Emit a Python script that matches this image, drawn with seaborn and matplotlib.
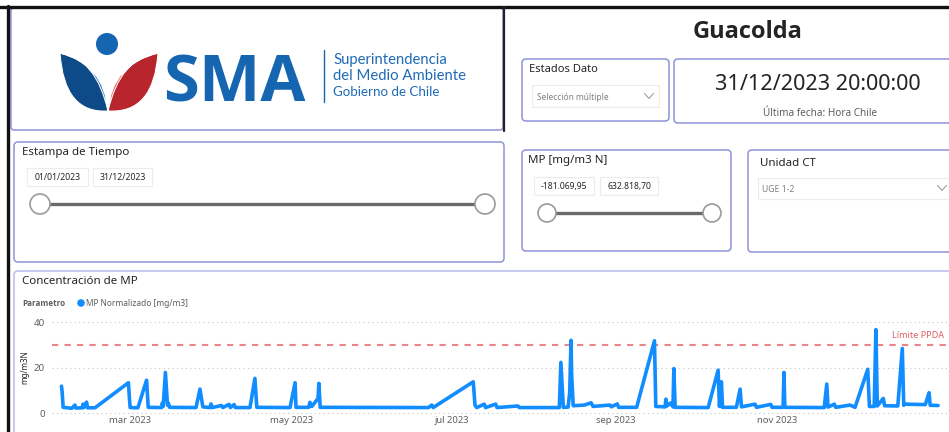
import pandas as pd
import matplotlib
matplotlib.use("Agg")
import matplotlib.pyplot as plt
import seaborn as sns
from matplotlib.patches import FancyBboxPatch, Circle, PathPatch
from matplotlib.path import Path

sns.set_theme(style="white")
plt.rcParams['font.family'] = ['Noto Sans', 'DejaVu Sans']
NEGRITA = ['Open Sans', 'DejaVu Sans']

# ---- data ----
fechas = [
    "2023-02-03 02:00", "2023-02-03 08:00", "2023-02-03 17:00", "2023-02-07 00:00",
    "2023-02-08 04:00", "2023-02-08 12:00", "2023-02-11 00:00", "2023-02-11 05:00",
    "2023-02-11 12:00", "2023-02-12 14:00", "2023-02-12 22:00", "2023-02-15 19:00",
    "2023-02-28 10:00", "2023-02-28 20:00", "2023-03-01 02:00", "2023-03-04 00:00",
    "2023-03-07 07:00", "2023-03-07 22:00", "2023-03-13 00:00", "2023-03-13 06:00",
    "2023-03-13 14:00", "2023-03-14 10:00", "2023-03-15 05:00", "2023-03-15 14:00",
    "2023-03-16 00:00", "2023-03-26 00:00", "2023-03-27 12:00", "2023-03-28 14:00",
    "2023-03-31 06:00", "2023-03-31 16:00", "2023-04-01 02:00", "2023-04-04 16:00",
    "2023-04-05 04:00", "2023-04-07 12:00", "2023-04-08 00:00", "2023-04-09 10:00",
    "2023-04-09 22:00", "2023-04-15 10:00", "2023-04-17 07:00", "2023-04-18 00:00",
    "2023-04-30 14:00", "2023-05-02 12:00", "2023-05-02 20:00", "2023-05-07 16:00",
    "2023-05-08 02:00", "2023-05-08 20:00", "2023-05-11 04:00", "2023-05-11 12:00",
    "2023-05-12 00:00", "2023-06-22 00:00", "2023-06-23 05:00", "2023-06-23 18:00",
    "2023-07-08 22:00", "2023-07-09 14:00", "2023-07-10 06:00", "2023-07-13 02:00",
    "2023-07-13 14:00", "2023-07-17 10:00", "2023-07-17 22:00", "2023-07-25 20:00",
    "2023-07-26 08:00", "2023-08-10 12:00", "2023-08-11 02:00", "2023-08-12 00:00",
    "2023-08-13 20:00", "2023-08-14 10:00", "2023-08-14 22:00", "2023-08-15 04:00",
    "2023-08-15 18:00", "2023-08-20 00:00", "2023-08-22 12:00", "2023-08-23 06:00",
    "2023-08-29 16:00", "2023-08-30 04:00", "2023-09-01 10:00", "2023-09-01 22:00",
    "2023-09-08 18:00", "2023-09-15 12:00", "2023-09-16 00:00", "2023-09-19 12:00",
    "2023-09-19 20:00", "2023-09-20 06:00", "2023-09-21 14:00", "2023-09-22 12:00",
    "2023-09-22 20:00", "2023-09-23 08:00", "2023-10-05 20:00", "2023-10-09 14:00",
    "2023-10-10 02:00", "2023-10-10 20:00", "2023-10-11 06:00", "2023-10-16 12:00",
    "2023-10-17 22:00", "2023-10-18 10:00", "2023-10-23 14:00", "2023-10-24 02:00",
    "2023-10-29 12:00", "2023-10-30 00:00", "2023-11-03 04:00", "2023-11-03 12:00",
    "2023-11-03 20:00", "2023-11-18 18:00", "2023-11-19 17:00", "2023-11-20 04:00",
    "2023-11-22 14:00", "2023-11-23 02:00", "2023-11-28 12:00", "2023-11-30 10:00",
    "2023-12-05 05:00", "2023-12-05 20:00", "2023-12-07 16:00", "2023-12-08 07:00",
    "2023-12-08 20:00", "2023-12-11 02:00", "2023-12-11 14:00", "2023-12-16 14:00",
    "2023-12-18 07:00", "2023-12-18 20:00", "2023-12-19 00:00", "2023-12-27 00:00",
    "2023-12-28 10:00", "2023-12-28 20:00", "2023-12-31 20:00",
]
valores = [
    11.9, 9.5, 2.6, 2.2,
    3.6, 2.3, 2.4, 4.0,
    2.5, 4.9, 2.4, 2.4,
    13.4, 6.0, 2.5, 2.4,
    14.5, 2.6, 2.5, 4.5,
    3.0, 17.9, 3.5, 4.3,
    2.6, 2.5, 10.6, 2.8,
    2.5, 4.1, 2.5, 3.4,
    2.5, 3.9, 2.5, 3.8,
    2.5, 2.5, 15.3, 2.6,
    2.5, 13.4, 2.6, 2.6,
    4.8, 3.0, 6.5, 13.1,
    2.6, 2.5, 3.6, 2.5,
    13.8, 3.5, 2.5, 4.0,
    2.5, 4.0, 2.5, 3.2,
    2.5, 2.5, 22.3, 2.6,
    2.7, 9.0, 32.0, 16.7,
    3.3, 3.6, 4.6, 3.0,
    3.6, 2.8, 4.1, 2.6,
    2.6, 31.8, 3.0, 2.8,
    6.2, 3.2, 4.5, 2.8,
    19.6, 2.6, 2.5, 18.9,
    3.0, 13.8, 2.6, 2.6,
    10.6, 2.8, 4.0, 2.6,
    3.9, 2.6, 2.6, 17.9,
    2.6, 2.5, 12.8, 2.7,
    4.0, 2.6, 3.6, 2.6,
    19.3, 3.0, 3.0, 36.7,
    3.2, 6.5, 3.3, 3.2,
    28.4, 3.5, 4.0, 3.8,
    9.0, 3.5, 3.4,
]
limite_ppda = 30
y_ticks = [0, 20, 40]
meses = ["2023-03-01", "2023-05-01", "2023-07-01", "2023-09-01", "2023-11-01"]
meses_labels = ["mar 2023", "may 2023", "jul 2023", "sep 2023", "nov 2023"]

df = pd.DataFrame({"Fecha": pd.to_datetime(fechas), "MP": valores})

# colours
AZUL = "#118DFF"
BORDE = "#8e93db"
TXT = "#252423"
GRIS = "#605e5c"

fig = plt.figure(figsize=(9.49, 4.32), dpi=100)
bg = fig.add_axes([0, 0, 1, 1])
bg.set_xlim(0, 949)
bg.set_ylim(432, 0)
bg.axis("off")


def caja(x0, y0, x1, y1, ec=BORDE, lw=1.1, r=4):
    bg.add_patch(FancyBboxPatch((x0, y0), x1 - x0, y1 - y0,
                                boxstyle=f"round,pad=0,rounding_size={r}",
                                fc="white", ec=ec, lw=lw))


def chevron(x, y, w=9, h=5, c="#a0a0a0"):
    bg.plot([x - w / 2, x, x + w / 2], [y - h / 2, y + h / 2, y - h / 2], color=c, lw=0.8)


def slider(x0, x1, y, r):
    bg.plot([x0, x1], [y, y], color="#6b6b6b", lw=2.4, solid_capstyle="butt", zorder=3)
    for xc in (x0, x1):
        bg.add_patch(Circle((xc, y), r, fc="white", ec="#9a9a9a", lw=1.2, zorder=4))


# ---- logo box ----
caja(11, 8, 503, 130, r=3)
bg.add_patch(Circle((107, 44), 11, fc="#1565b0", ec="none"))
hoja_izq = Path([(60, 53), (64, 114), (108, 111), (104, 64), (60, 53)],
                [Path.MOVETO, Path.CURVE3, Path.CURVE3, Path.CURVE3, Path.CURVE3])
hoja_izq2 = Path([(60, 53), (96, 58), (108, 111), (104, 64), (60, 53)],
                 [Path.MOVETO, Path.CURVE3, Path.CURVE3, Path.CURVE3, Path.CURVE3])
hoja_der = Path([(158, 53), (154, 114), (108, 111), (112, 64), (158, 53)],
                [Path.MOVETO, Path.CURVE3, Path.CURVE3, Path.CURVE3, Path.CURVE3])
hoja_der2 = Path([(158, 53), (120, 58), (108, 111), (112, 64), (158, 53)],
                 [Path.MOVETO, Path.CURVE3, Path.CURVE3, Path.CURVE3, Path.CURVE3])
bg.add_patch(PathPatch(hoja_izq, fc="#0d4a87", ec="white", lw=0.8))
bg.add_patch(PathPatch(hoja_izq2, fc="#1765b2", ec="white", lw=0.8))
bg.add_patch(PathPatch(hoja_der, fc="#b9252d", ec="white", lw=0.8))
bg.add_patch(PathPatch(hoja_der2, fc="#e2333c", ec="white", lw=0.8))
bg.text(163, 101, "SMA", fontsize=47, fontweight="bold", color="#1565b0",
        va="baseline", ha="left", family=NEGRITA)
bg.plot([324, 324], [50, 102], color="#1565b0", lw=1)
for i, linea in enumerate(["Superintendencia", "del Medio Ambiente", "Gobierno de Chile"]):
    bg.text(333, 60 + 16 * i, linea, fontsize=10.7 if i < 2 else 9.6, color="#1f6bb5",
            va="center", ha="left", family=["Lato", "DejaVu Sans"])

# black frame from screenshot
bg.plot([0, 949], [7, 7], color="#111111", lw=2.4)
bg.plot([8, 8], [6, 432], color="#111111", lw=2.4)
bg.plot([504, 504], [7, 131], color="#222222", lw=1.6)

# ---- title ----
bg.text(748, 32, "Guacolda", fontsize=17, fontweight="bold", color=TXT,
        ha="center", va="center", family=NEGRITA)

# ---- Estados Dato ----
caja(522, 59, 669, 121)
bg.text(529, 69, "Estados Dato", fontsize=8, color=TXT, va="center")
bg.add_patch(FancyBboxPatch((532, 85), 127, 22, boxstyle="square,pad=0", fc="white", ec="#ececec", lw=0.8))
bg.text(537, 97, "Selección múltiple", fontsize=6, color="#808080", va="center")
chevron(649, 96)

# ---- fecha card ----
caja(674, 59, 960, 123)
bg.text(818, 85, "31/12/2023 20:00:00", fontsize=15.6, color=TXT, ha="center", va="center")
bg.text(820, 113, "Última fecha: Hora Chile", fontsize=7.2, color=GRIS, ha="center", va="center")

# ---- Estampa de Tiempo ----
caja(14, 142, 504, 262)
bg.text(22, 153, "Estampa de Tiempo", fontsize=8.3, color=TXT, va="center")
for (x0, x1), t in zip([(27, 88), (93, 152)], ["01/01/2023", "31/12/2023"]):
    bg.add_patch(FancyBboxPatch((x0, 168), x1 - x0, 18, boxstyle="square,pad=0", fc="white", ec="#ececec", lw=0.8))
    bg.text((x0 + x1) / 2, 177, t, fontsize=6.2, color=TXT, ha="center", va="center")
slider(40, 485, 204, 10)

# ---- MP slider ----
caja(522, 150, 731, 251)
bg.text(528, 161, "MP [mg/m3 N]", fontsize=8.3, color=TXT, va="center")
for (x0, x1), t in zip([(534, 594), (600, 658)], ["-181.069,95", "632.818,70"]):
    bg.add_patch(FancyBboxPatch((x0, 177), x1 - x0, 18, boxstyle="square,pad=0", fc="white", ec="#ececec", lw=0.8))
    bg.text((x0 + x1) / 2, 186, t, fontsize=6.2, color=TXT, ha="center", va="center")
slider(547, 712, 213, 9)

# ---- Unidad CT ----
caja(748, 150, 960, 252)
bg.text(760, 164, "Unidad CT", fontsize=8.3, color=TXT, va="center")
bg.add_patch(FancyBboxPatch((758, 178), 200, 21, boxstyle="square,pad=0", fc="white", ec="#ececec", lw=0.8))
bg.text(762, 190, "UGE 1-2", fontsize=6.2, color="#808080", va="center")
chevron(942, 188)

# ---- chart card ----
caja(14, 271, 960, 445, ec="#b8bbec")
bg.text(22, 282, "Concentración de MP", fontsize=8.3, color=TXT, va="center")
bg.text(22, 303, "Parametro", fontsize=5.8, fontweight="bold", color=GRIS, va="center", family=NEGRITA)
bg.add_patch(Circle((81, 303), 3.8, fc=AZUL, ec="none"))
bg.text(86, 303, "MP Normalizado [mg/m3]", fontsize=6, color=GRIS, va="center")
bg.text(25, 367, "mg/m3N", fontsize=5.8, color=TXT, rotation=90, ha="center", va="center")
bg.text(944, 336, "Límite PPDA", fontsize=6.5, color="#df5f66", ha="right", va="center")

ax = fig.add_axes([52 / 949, 1 - 416 / 432, (948 - 52) / 949, (416 - 315) / 432])
ax.patch.set_alpha(0)
sns.lineplot(data=df, x="Fecha", y="MP", ax=ax, color=AZUL, linewidth=2.6)
ax.axhline(limite_ppda, color="#e8868a", ls=(0, (3, 3)), lw=1.5, zorder=1)
ax.set_xlim(pd.Timestamp("2023-01-30 12:00"), pd.Timestamp("2024-01-04 14:00"))
ax.set_ylim(-1.2, 43.1)
ax.set_yticks(y_ticks)
ax.set_yticklabels([str(v) for v in y_ticks], fontsize=7, color=GRIS)
ax.set_xticks(pd.to_datetime(meses))
ax.set_xticklabels(meses_labels, fontsize=6.8, color=GRIS)
ax.yaxis.grid(True, ls=(0, (1, 3)), color="#c4c4c4", lw=0.8)
ax.xaxis.grid(False)
ax.tick_params(length=0, axis="y", pad=5)
ax.tick_params(length=0, axis="x", pad=0)
ax.set_xlabel("")
ax.set_ylabel("")
for s in ax.spines.values():
    s.set_visible(False)

fig.savefig("out.png", dpi=100)
